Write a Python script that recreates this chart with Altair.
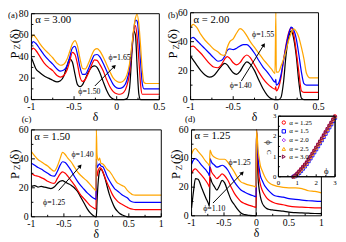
import math
import altair as alt
import pandas as pd

FONT = "Liberation Serif"
W, H = 338, 234
SERIES = ["1_black", "2_red", "3_blue", "4_orange"]
COLORS = ["#000000", "#ff0000", "#0000ff", "#ffa500"]

# ---------------- panel (a): alpha = 3.00 ----------------
A_X = [-1, -0.98, -0.95, -0.9, -0.85, -0.8, -0.75, -0.7, -0.66, -0.62,
       -0.58, -0.55, -0.52, -0.49, -0.46, -0.43, -0.4, -0.37, -0.33, -0.29,
       -0.26, -0.23, -0.2, -0.16, -0.12, -0.08, -0.04, 0, 0.04, 0.08,
       0.12, 0.15, 0.18, 0.2, 0.22, 0.24, 0.26, 0.28, 0.3, 0.32,
       0.35, 0.5]
A_ORANGE = [57, 60, 58, 52, 47, 43, 39, 34, 32, 33,
            38, 45, 52, 55, 50, 38, 29, 28.5, 34, 42,
            46.5, 47.5, 45.5, 40, 33, 26, 20, 17, 16, 17.5,
            23, 33, 52, 66, 76, 79.5, 70, 50, 27, 16,
            15, 15]
A_BLUE = [51, 54, 52.5, 47, 41.5, 37, 33, 28.5, 26.5, 27.5,
          32, 40, 48, 49.5, 42, 30, 23.5, 23.5, 29, 37,
          41.5, 42, 40, 34, 27, 20, 14, 11, 10.5, 12,
          18, 29, 50, 65, 74, 73, 58, 35, 15, 10,
          10, 10]
A_RED = [46, 48, 46, 40, 34, 30, 27, 22.5, 21, 22.5,
         28, 36, 44, 42, 33, 21, 17, 18.5, 25, 33,
         37, 36.5, 33, 27, 19, 12, 7.5, 5.5, 5, 6.5,
         13, 24, 48, 64, 69, 58, 37, 14, 5, 5,
         5, 5]
A_BLACK = [39, 35, 29, 25, 22, 20, 18, 16.5, 17.5, 22,
           32, 38, 35, 24, 14, 12, 14, 19, 26, 30.5,
           31.5, 30, 25.5, 17, 9, 3, 0.5, 0, 0, 0,
           1, 10, 45, 64, 60, 30, 5, 0, 0, 0,
           0, 0]

# ---------------- panel (b): alpha = 2.00 ----------------
B_X = [-1, -0.97, -0.93, -0.88, -0.83, -0.78, -0.73, -0.68, -0.64, -0.6,
       -0.57, -0.54, -0.5, -0.46, -0.42, -0.38, -0.34, -0.3, -0.25, -0.2,
       -0.15, -0.1, -0.05, -0.01, 0, 0.005, 0.03, 0.06, 0.09, 0.12,
       0.15, 0.18, 0.21, 0.24, 0.27, 0.3, 0.33, 0.36, 0.4, 0.5]
B_ORANGE = [50, 52, 50, 45, 41, 38, 35, 33, 31, 30.5,
            36, 40, 42, 46, 49, 47.5, 44, 40, 36, 32,
            28, 24.5, 21, 18, 60, 19, 19, 23, 28, 34,
            41, 46, 48.8, 47, 43, 36, 28, 18, 15, 15]
B_BLUE = [42, 43, 41, 38, 35, 32, 29, 26.5, 27, 30,
          34, 35, 34.5, 35.5, 37, 38, 38, 36, 32, 27,
          22.5, 19, 15, 12, 14, 10, 11, 17, 27, 37,
          45, 50, 48, 42, 31, 19, 11, 10, 10, 10]
B_RED = [36.5, 37, 35, 32, 28.5, 25, 22.5, 22, 24, 28,
         29.7, 28.5, 25.5, 24, 25.5, 29, 30.8, 29, 24, 19,
         14.5, 11, 8.5, 7.2, 9, 6, 8, 15, 27, 38,
         46, 49.5, 45, 33, 19, 6, 5, 5, 5, 5]
B_BLACK = [30, 27.5, 24, 20, 17, 15.5, 16.5, 20, 23, 25,
           24, 21.5, 18.5, 17.5, 19.5, 23.5, 26, 24.5, 20, 13.5,
           7.5, 3, 0.5, 0, 0, 0, 0, 1.5, 12, 31,
           43, 47.5, 42, 30, 12, 1, 0, 0, 0, 0]

# ---------------- panel (c): alpha = 1.50 ----------------
C_X = [-1, -0.95, -0.9, -0.85, -0.8, -0.75, -0.7, -0.65, -0.6, -0.56,
       -0.52, -0.48, -0.44, -0.39, -0.34, -0.29, -0.24, -0.19, -0.14, -0.09,
       -0.04, -0.005, 0, 0.01, 0.03, 0.05, 0.07, 0.1, 0.13, 0.16,
       0.2, 0.24, 0.28, 0.32, 0.36, 0.4, 0.44, 0.48, 0.52, 0.56,
       0.6, 0.7, 0.8, 0.9, 1]
C_ORANGE = [45, 42, 39.5, 38, 36.5, 35, 33, 31.5, 35, 40,
            44.5, 43, 40.5, 38, 34.5, 31, 28.5, 26.5, 24.5, 22,
            19.5, 18, 60, 43, 39, 40.5, 37, 36.5, 35, 33,
            31.5, 29, 26, 23.5, 22.5, 21.5, 20.5, 18, 16.5, 15.2,
            15, 15, 15, 15, 15]
C_BLUE = [37, 35.5, 34, 33, 31.5, 30, 28.5, 28, 31.5, 35.5,
          38, 37.5, 35.3, 32, 28, 24.5, 21.5, 19, 16.5, 14.5,
          12.8, 12, 40, 34, 35.5, 36.5, 35, 34.5, 32, 28.5,
          25, 22, 19.5, 18, 16.5, 15, 14, 13, 11, 10.2,
          10, 10, 10, 10, 10]
C_RED = [30, 28.5, 28, 27, 26, 24.5, 23.5, 23, 26.5, 29.5,
         31, 30, 28, 25, 22, 18.5, 15, 12.5, 10, 7.5,
         6, 5.3, 36, 28, 32, 34, 33.5, 31, 27.5, 24,
         20, 16, 13, 11, 9.5, 8.5, 7.5, 6.5, 5.6, 5.2,
         5, 5, 5, 5, 5]
C_BLACK = [21, 21.5, 20.5, 21, 20.5, 20, 19.5, 20.5, 23, 24.5,
           25, 24, 23, 21.8, 20, 17.5, 13.5, 9.5, 5.5, 2.5,
           0.6, 0, 0, 10, 25, 31.5, 33, 31, 27, 22,
           15.5, 10.6, 6.5, 4, 2.2, 1.2, 0.5, 0, 0, 0,
           0, 0, 0, 0, 0]

# ---------------- panel (d): alpha = 1.25 ----------------
D_X = [-1, -0.97, -0.94, -0.9, -0.84, -0.78, -0.74, -0.725, -0.715, -0.69,
       -0.65, -0.61, -0.57, -0.53, -0.49, -0.44, -0.39, -0.34, -0.29, -0.24,
       -0.18, -0.11, -0.05, -0.005, 0, 0.015, 0.025, 0.04, 0.06, 0.087,
       0.12, 0.16, 0.21, 0.26, 0.33, 0.41, 0.5, 0.6, 0.7, 0.8,
       0.9, 1]
D_ORANGE = [43, 46, 47, 45, 41.8, 38, 36, 35, 45.9, 43,
            41, 40, 39.5, 39.5, 39.5, 37.3, 34, 30.5, 26.5, 23.7,
            22.5, 21.4, 20.8, 20.2, 60, 53, 46, 40.7, 35, 31.6,
            28, 24.8, 22.5, 21.4, 20.5, 19.8, 19.5, 19.5, 19, 17.5,
            17, 16]
D_BLUE = [36, 39, 40, 38.5, 35, 32, 29.5, 28, 40, 37.3,
          35.5, 34, 34.5, 35.3, 34.5, 31.8, 27.5, 23.7, 20.5, 18,
          16.5, 15, 14, 13.4, 60, 48, 40, 33.9, 28, 24.8,
          21.5, 19, 16.5, 14.5, 13.5, 13, 12, 11.5, 11, 10.5,
          10.3, 10]
D_RED = [29.3, 32, 32.7, 31, 28, 24.5, 21.5, 20, 34, 30.5,
         28, 26, 27.5, 29.3, 28, 24.8, 20, 15.7, 12.5, 10,
         8.5, 7.3, 6.5, 5.9, 60, 44, 35, 27, 22, 18,
         15, 12.3, 10.5, 9.3, 8.3, 7.7, 6.8, 6.2, 6, 5.8,
         5.6, 5.5]
D_BLACK = [5.5, 17, 26, 25.5, 19, 12.5, 8.5, 6.6, 27, 23.7,
           20.5, 18, 21, 24.8, 23, 16.8, 11, 7.7, 4.5, 2,
           0.8, 0.3, 0.1, 0, 60, 38, 26, 19, 13.4, 9,
           6.6, 5, 4.3, 4, 3.6, 3.2, 2.5, 2.2, 2, 1.8,
           1.6, 1.5]

# ---------------- inset: phi_C vs phi ----------------
INSET_PHI = [0.8, 0.9, 1.0, 1.1, 1.2, 1.3, 1.4, 1.5, 1.6, 1.7, 1.8, 1.9,
             2.0, 2.1, 2.2, 2.3, 2.4, 2.5, 2.6, 2.7, 2.8, 2.9, 3.0]
INSET_ALPHA = ["α = 1.25", "α = 1.5", "α = 2.0", "α = 2.5", "α = 3.0"]
INSET_COLORS = ["#ff0000", "#0000ff", "#a020f0", "#ffa500", "#800040"]
INSET_SHAPES = ["circle", "square", "diamond", "triangle-up", "triangle-right"]
INSET_C = [
    [0.0, 0.07, 0.17, 0.27, 0.38, 0.49, 0.6, 0.72, 0.86, 1.0, 1.15, 1.3,
     1.45, 1.6, 1.75, 1.9, 2.06, 2.22, 2.38, 2.54, 2.69, 2.85, 3.0],
    [0.0, 0.03, 0.1, 0.19, 0.29, 0.4, 0.51, 0.63, 0.77, 0.91, 1.06, 1.21,
     1.36, 1.51, 1.66, 1.81, 1.97, 2.13, 2.29, 2.45, 2.6, 2.76, 2.92],
    [0.0, 0.05, 0.14, 0.24, 0.34, 0.45, 0.56, 0.68, 0.82, 0.96, 1.11, 1.26,
     1.41, 1.56, 1.71, 1.86, 2.02, 2.18, 2.34, 2.5, 2.65, 2.81, 2.96],
    [0.0, 0.06, 0.15, 0.25, 0.36, 0.47, 0.58, 0.7, 0.84, 0.98, 1.13, 1.28,
     1.43, 1.58, 1.73, 1.88, 2.04, 2.2, 2.36, 2.52, 2.67, 2.83, 2.98],
    [0.0, 0.07, 0.16, 0.26, 0.37, 0.48, 0.59, 0.71, 0.85, 0.99, 1.14, 1.29,
     1.44, 1.59, 1.74, 1.89, 2.05, 2.21, 2.37, 2.53, 2.68, 2.84, 2.99],
]


def fmt(v):
    return "%g" % v


def axis_layers(sx, sy, xdom, ydom, xmaj, xmin_, ymaj, ymin_, fs=10, tick=3.5,
                mtick=2, xlab_dy=7.5, ylab_dx=-3, title_dy=18, xtitle="δ", tfs=12):
    X = lambda f: alt.X(f, scale=sx, axis=None)
    Y = lambda f: alt.Y(f, scale=sy, axis=None)
    out = []
    for vals, ln in ((xmaj, tick), (xmin_, mtick)):
        if vals:
            df = pd.DataFrame({"v": vals, "b": [ydom[0]] * len(vals)})
            out.append(alt.Chart(df).mark_rule(color="black", strokeWidth=1,
                                               y2Offset=-ln).encode(
                x=X("v:Q"), y=Y("b:Q"), y2="b:Q"))
    for vals, ln in ((ymaj, tick), (ymin_, mtick)):
        if vals:
            df = pd.DataFrame({"v": vals, "a": [xdom[0]] * len(vals)})
            out.append(alt.Chart(df).mark_rule(color="black", strokeWidth=1,
                                               x2Offset=ln).encode(
                y=Y("v:Q"), x=X("a:Q"), x2="a:Q"))
    xl = pd.DataFrame({"v": xmaj, "b": [ydom[0]] * len(xmaj), "t": [fmt(v) for v in xmaj]})
    out.append(alt.Chart(xl).mark_text(font=FONT, fontSize=fs, color="black", align="center",
                                       baseline="middle", dy=xlab_dy).encode(
        x=X("v:Q"), y=Y("b:Q"), text="t:N"))
    yl = pd.DataFrame({"v": ymaj, "a": [xdom[0]] * len(ymaj), "t": [fmt(v) for v in ymaj]})
    out.append(alt.Chart(yl).mark_text(font=FONT, fontSize=fs, color="black", align="right",
                                       baseline="middle", dx=ylab_dx).encode(
        x=X("a:Q"), y=Y("v:Q"), text="t:N"))
    if xtitle:
        tl = pd.DataFrame({"v": [(xdom[0] + xdom[1]) / 2], "b": [ydom[0]], "t": [xtitle]})
        out.append(alt.Chart(tl).mark_text(font=FONT, fontSize=tfs, color="black",
                                           align="center", baseline="middle",
                                           dy=title_dy).encode(
            x=X("v:Q"), y=Y("b:Q"), text="t:N"))
    return out


def build_panel(xs, curves, xdom, ydom, xr, yr, xticks, xminor, yticks, yminor,
                notes, ytitle, arrow):
    sx = alt.Scale(domain=xdom, range=xr, nice=False, zero=False)
    sy = alt.Scale(domain=ydom, range=yr, nice=False, zero=False)
    X = lambda f: alt.X(f, scale=sx, axis=None)
    Y = lambda f: alt.Y(f, scale=sy, axis=None)
    rows = []
    for name, ys in zip(SERIES, curves):
        for x, y in zip(xs, ys):
            rows.append({"d": x, "p": y, "s": name})
    df = pd.DataFrame(rows)
    lines = alt.Chart(df).mark_line(strokeWidth=1.25, interpolate="monotone").encode(
        x=X("d:Q"), y=Y("p:Q"),
        color=alt.Color("s:N", scale=alt.Scale(domain=SERIES, range=COLORS), legend=None),
    )
    fdf = pd.DataFrame({"x1": [xdom[0]], "x2": [xdom[1]], "y1": [ydom[0]], "y2": [ydom[1]]})
    frame = alt.Chart(fdf).mark_rect(fillOpacity=0, stroke="black", strokeWidth=1).encode(
        x=X("x1:Q"), x2="x2:Q", y=Y("y1:Q"), y2="y2:Q")
    ndf = pd.DataFrame(notes, columns=["x", "y", "t", "fs", "al"])
    texts = [alt.Chart(ndf[ndf.al == al]).mark_text(font=FONT, align=al, baseline="middle",
                                                    color="black").encode(
        x=X("x:Q"), y=Y("y:Q"), text="t:N",
        size=alt.Size("fs:Q", scale=None, legend=None)) for al in ("left", "center")]
    tdf = pd.DataFrame(ytitle, columns=["x", "y", "t", "fs"])
    ttl = alt.Chart(tdf).mark_text(font=FONT, align="center", baseline="middle",
                                    color="black", angle=270).encode(
        x=X("x:Q"), y=Y("y:Q"), text="t:N",
        size=alt.Size("fs:Q", scale=None, legend=None))
    x0, y0, x1, y1 = arrow
    kx = (xr[1] - xr[0]) / (xdom[1] - xdom[0])
    ky = (yr[1] - yr[0]) / (ydom[1] - ydom[0])
    ang = math.degrees(math.atan2((x1 - x0) * kx, -(y1 - y0) * ky)) % 360
    adf = pd.DataFrame({"x": [x0], "y": [y0], "x2": [x1], "y2": [y1]})
    rule = alt.Chart(adf).mark_rule(color="black", strokeWidth=1).encode(
        x=X("x:Q"), y=Y("y:Q"), x2="x2:Q", y2="y2:Q")
    head = alt.Chart(pd.DataFrame({"x": [x1], "y": [y1]})).mark_point(
        shape="triangle-up", filled=True, size=22, color="black", opacity=1,
        angle=ang).encode(x=X("x:Q"), y=Y("y:Q"))
    axes = axis_layers(sx, sy, xdom, ydom, xticks, xminor, yticks, yminor)
    return alt.layer(lines, frame, *axes, *texts, ttl, rule, head)


panel_a = build_panel(
    A_X, [A_BLACK, A_RED, A_BLUE, A_ORANGE], [-1, 0.5], [0, 80],
    [24, 155], [91, 3], [-1, -0.5, 0, 0.5], [-0.75, -0.25, 0.25],
    [0, 20, 40, 60, 80], [10, 30, 50, 70],
    [(-0.954, 74.5, "α = 3.00", 11, "left"), (-1.218, 79.1, "(a)", 9, "center"),
     (-0.095, 39, "ϕ=1.65", 8, "left"), (-0.45, 7.3, "ϕ=1.50", 8, "left")],
    [(-1.195, 41.5, "P", 13), (-1.166, 49.1, "Z", 9), (-1.195, 59.1, "(δ)", 13)],
    (-0.256, 12.7, -0.027, 31))

panel_b = build_panel(
    B_X, [B_BLACK, B_RED, B_BLUE, B_ORANGE], [-1, 0.5], [0, 60],
    [187, 318], [91, 2], [-1, -0.5, 0, 0.5], [-0.75, -0.25, 0.25],
    [0, 20, 40, 60], [10, 30, 50],
    [(-0.966, 55, "α = 2.00", 11, "left"), (-1.206, 58.7, "(b)", 9, "center"),
     (-0.279, 44.5, "ϕ=1.55", 8, "left"), (-0.542, 9.4, "ϕ=1.40", 8, "left")],
    [(-1.2, 30.8, "P", 13), (-1.172, 36.4, "Z", 9), (-1.2, 43.8, "(δ)", 13)],
    (-0.405, 12.8, -0.141, 37.8))

panel_c = build_panel(
    C_X, [C_BLACK, C_RED, C_BLUE, C_ORANGE], [-1, 1], [0, 60],
    [24, 157], [211, 122], [-1, -0.5, 0, 0.5, 1], [-0.75, -0.25, 0.25, 0.75],
    [0, 20, 40, 60], [10, 30, 50],
    [(-0.955, 55.3, "α = 1.50", 11, "left"), (-1.15, 67.4, "(c)", 9, "left"),
     (-0.383, 42.5, "ϕ=1.40", 8, "left"), (-0.82, 9.4, "ϕ=1.25", 8, "left")],
    [(-1.256, 28.5, "P", 13), (-1.218, 34.1, "Z", 9), (-1.256, 41.5, "(δ)", 13)],
    (-0.58, 18.2, -0.248, 35))

panel_d = build_panel(
    D_X, [D_BLACK, D_RED, D_BLUE, D_ORANGE], [-1, 1], [0, 60],
    [188, 321], [210, 122], [-1, -0.5, 0, 0.5, 1], [-0.75, -0.25, 0.25, 0.75],
    [0, 20, 40, 60], [10, 30, 50],
    [(-0.955, 55.9, "α = 1.25", 11, "left"), (-1.1, 67.5, "(d)", 9, "left"),
     (-0.429, 36.8, "ϕ=1.25", 8, "left"), (-0.82, 4.8, "ϕ=1.10", 8, "left")],
    [(-1.233, 28.2, "P", 13), (-1.195, 33.7, "Z", 9), (-1.233, 41.2, "(δ)", 13)],
    (-0.67, 8.9, -0.218, 30))

# ---------------- inset ----------------
sxi = alt.Scale(domain=[0, 3], range=[277, 335], nice=False, zero=False)
syi = alt.Scale(domain=[0, 3], range=[170, 108], nice=False, zero=False)
XI = lambda f: alt.X(f, scale=sxi, axis=None)
YI = lambda f: alt.Y(f, scale=syi, axis=None)
irows = []
for a, cs in zip(INSET_ALPHA, INSET_C):
    for p, c in zip(INSET_PHI, cs):
        irows.append({"phi": p, "phic": c, "a": a})
idf = pd.DataFrame(irows)
ifr = pd.DataFrame({"x1": [0], "x2": [3], "y1": [0], "y2": [3]})
inset_bg = alt.Chart(ifr).mark_rect(fill="white", stroke="black", strokeWidth=1).encode(
    x=XI("x1:Q"), x2="x2:Q", y=YI("y1:Q"), y2="y2:Q")
leg = alt.Legend(orient="none", legendX=279, legendY=111, title=None,
                 labelFont=FONT, labelFontSize=7, labelColor="black",
                 symbolSize=12, symbolStrokeWidth=1, rowPadding=0, padding=0,
                 labelOffset=2, labelLimit=0)
inset_pts = alt.Chart(idf).mark_point(filled=False, size=10, strokeWidth=0.9, opacity=1).encode(
    x=XI("phi:Q"), y=YI("phic:Q"),
    color=alt.Color("a:N", scale=alt.Scale(domain=INSET_ALPHA, range=INSET_COLORS), legend=leg),
    shape=alt.Shape("a:N", scale=alt.Scale(domain=INSET_ALPHA, range=INSET_SHAPES), legend=leg),
)
inset_frame = alt.Chart(ifr).mark_rect(fillOpacity=0, stroke="black", strokeWidth=1).encode(
    x=XI("x1:Q"), x2="x2:Q", y=YI("y1:Q"), y2="y2:Q")
inset_axes = axis_layers(sxi, syi, [0, 3], [0, 3], [0, 1, 2, 3], [0.5, 1.5, 2.5],
                         [0, 1, 2, 3], [0.5, 1.5, 2.5], fs=7, tick=2.5, mtick=1.5,
                         xlab_dy=6, ylab_dx=-2, xtitle=None)
itxt = pd.DataFrame([(2.53, 0.29, "ϕ", 9)], columns=["x", "y", "t", "fs"])
inset_xt = alt.Chart(itxt).mark_text(font=FONT, align="center", baseline="middle",
                                     color="black").encode(
    x=XI("x:Q"), y=YI("y:Q"), text="t:N", size=alt.Size("fs:Q", scale=None, legend=None))
iyt = pd.DataFrame([(-0.52, 1.69, "ϕ", 9), (-0.49, 1.21, "C", 7)],
                   columns=["x", "y", "t", "fs"])
inset_yt = alt.Chart(iyt).mark_text(font=FONT, align="center", baseline="middle",
                                    color="black", angle=90).encode(
    x=XI("x:Q"), y=YI("y:Q"), text="t:N", size=alt.Size("fs:Q", scale=None, legend=None))
inset = alt.layer(inset_bg, inset_pts, inset_frame, *inset_axes, inset_xt, inset_yt)

chart = alt.layer(panel_a, panel_b, panel_c, panel_d, inset).resolve_scale(
    x="independent", y="independent", color="independent", shape="independent",
    size="independent"
).properties(
    width=W, height=H, autosize=alt.AutoSizeParams(type="none"), padding=0
).configure_view(stroke=None)

chart.save("out.html", embed_options={"renderer": "svg", "actions": False})
